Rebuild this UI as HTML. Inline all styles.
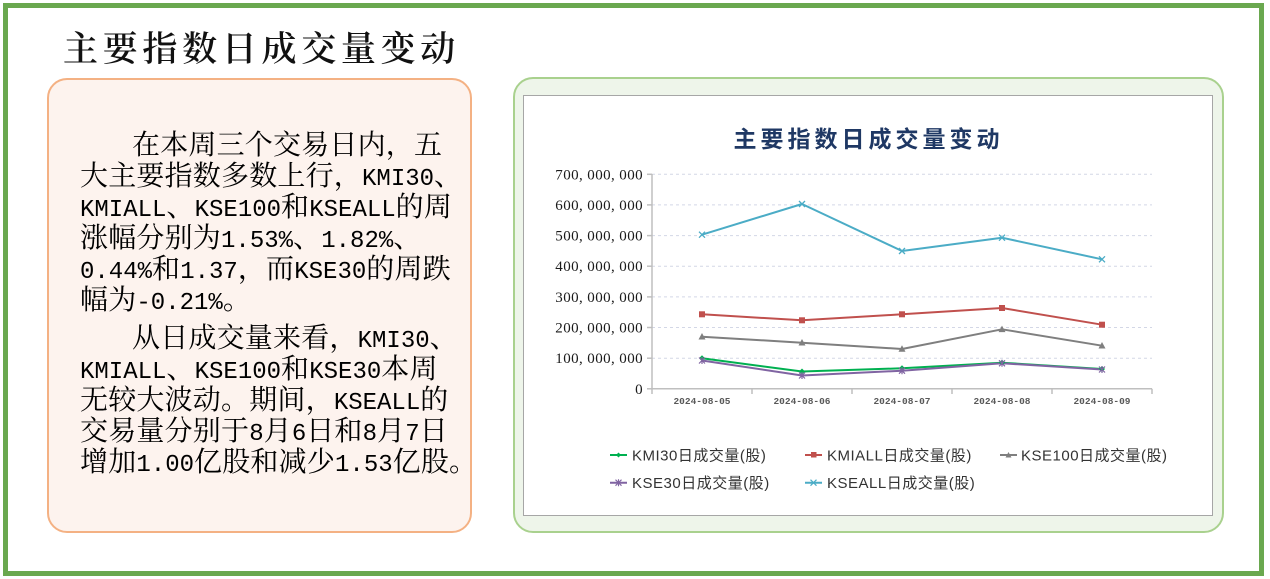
<!DOCTYPE html>
<html>
<head>
<meta charset="utf-8">
<style>
  html,body{margin:0;padding:0;background:#fff;}
  body{width:1270px;height:579px;position:relative;overflow:hidden;}
  .frame{position:absolute;left:3px;top:3px;width:1251px;height:563px;border:5.5px solid #6aa84f;}
  .heading{position:absolute;left:63px;top:27px;height:40px;line-height:40px;font-family:"Noto Serif CJK SC",serif;font-weight:600;font-size:35px;letter-spacing:4.7px;color:#111;white-space:nowrap;}
  .lbox{position:absolute;left:47px;top:78px;width:421px;height:451px;border:2px solid #f4b183;border-radius:20px;background:#fdf3ee;}
  .p{position:absolute;left:80px;height:31px;line-height:31px;font-family:"Noto Serif CJK SC",serif;font-size:28px;letter-spacing:0.2px;white-space:nowrap;color:#000;}
  .m{font-family:"Liberation Mono",monospace;font-size:24px;letter-spacing:0;}
  .gbox{position:absolute;left:513px;top:77px;width:707px;height:452px;border:2px solid #a9d18e;border-radius:20px;background:#eef5ea;}
  .wbox{position:absolute;left:523px;top:95px;width:688px;height:419px;border:1.5px solid #a6a6a6;background:#fff;}
  .ctitle{position:absolute;left:523px;top:122px;width:691px;height:30px;line-height:30px;text-align:center;font-family:"Noto Sans CJK SC",sans-serif;font-weight:700;font-size:23px;letter-spacing:4px;color:#1f3864;white-space:nowrap;}
  svg{position:absolute;left:0;top:0;}
</style>
</head>
<body>
<div class="frame"></div>
<div class="heading">主要指数日成交量变动</div>

<div class="lbox"></div>
<div class="p" style="top:128px;left:132px;">在本周三个交易日内，五</div>
<div class="p" style="top:159px;">大主要指数多数上行，<span class="m">KMI30</span>、</div>
<div class="p" style="top:190px;"><span class="m">KMIALL</span>、<span class="m">KSE100</span>和<span class="m">KSEALL</span>的周</div>
<div class="p" style="top:221px;">涨幅分别为<span class="m">1.53%</span>、<span class="m">1.82%</span>、</div>
<div class="p" style="top:252px;"><span class="m">0.44%</span>和<span class="m">1.37</span>，而<span class="m">KSE30</span>的周跌</div>
<div class="p" style="top:283px;">幅为<span class="m">-0.21%</span>。</div>

<div class="p" style="top:321px;left:132px;">从日成交量来看，<span class="m">KMI30</span>、</div>
<div class="p" style="top:352px;"><span class="m">KMIALL</span>、<span class="m">KSE100</span>和<span class="m">KSE30</span>本周</div>
<div class="p" style="top:383px;">无较大波动。期间，<span class="m">KSEALL</span>的</div>
<div class="p" style="top:414px;">交易量分别于<span class="m">8</span>月<span class="m">6</span>日和<span class="m">8</span>月<span class="m">7</span>日</div>
<div class="p" style="top:445px;">增加<span class="m">1.00</span>亿股和减少<span class="m">1.53</span>亿股。</div>

<div class="gbox"></div>
<div class="wbox"></div>
<div class="ctitle">主要指数日成交量变动</div>

<svg width="1270" height="579" viewBox="0 0 1270 579" xmlns="http://www.w3.org/2000/svg">
  <g stroke="#d3d7e6" stroke-width="1" stroke-dasharray="3,3">
    <line x1="652" y1="174.3" x2="1152" y2="174.3"/>
    <line x1="652" y1="204.9" x2="1152" y2="204.9"/>
    <line x1="652" y1="235.6" x2="1152" y2="235.6"/>
    <line x1="652" y1="266.2" x2="1152" y2="266.2"/>
    <line x1="652" y1="296.9" x2="1152" y2="296.9"/>
    <line x1="652" y1="327.5" x2="1152" y2="327.5"/>
    <line x1="652" y1="358.2" x2="1152" y2="358.2"/>
  </g>
  <g stroke="#bfbfbf" stroke-width="1.5">
    <line x1="652" y1="174" x2="652" y2="389"/>
    <line x1="652" y1="388.8" x2="1152" y2="388.8"/>
    <line x1="647" y1="174.3" x2="652" y2="174.3"/>
    <line x1="647" y1="204.9" x2="652" y2="204.9"/>
    <line x1="647" y1="235.6" x2="652" y2="235.6"/>
    <line x1="647" y1="266.2" x2="652" y2="266.2"/>
    <line x1="647" y1="296.9" x2="652" y2="296.9"/>
    <line x1="647" y1="327.5" x2="652" y2="327.5"/>
    <line x1="647" y1="358.2" x2="652" y2="358.2"/>
    <line x1="647" y1="388.8" x2="652" y2="388.8"/>
    <line x1="652" y1="388.8" x2="652" y2="394"/>
    <line x1="752" y1="388.8" x2="752" y2="394"/>
    <line x1="852" y1="388.8" x2="852" y2="394"/>
    <line x1="952" y1="388.8" x2="952" y2="394"/>
    <line x1="1052" y1="388.8" x2="1052" y2="394"/>
    <line x1="1152" y1="388.8" x2="1152" y2="394"/>
  </g>
  <g font-family="Liberation Serif, serif" font-size="15" fill="#1a1a1a" text-anchor="end" letter-spacing="0.4">
    <text x="643" y="179.3">700, 000, 000</text>
    <text x="643" y="209.9">600, 000, 000</text>
    <text x="643" y="240.6">500, 000, 000</text>
    <text x="643" y="271.2">400, 000, 000</text>
    <text x="643" y="301.9">300, 000, 000</text>
    <text x="643" y="332.5">200, 000, 000</text>
    <text x="643" y="363.2">100, 000, 000</text>
    <text x="643" y="393.8">0</text>
  </g>
  <g font-family="Liberation Mono, monospace" font-weight="700" font-size="9.5" fill="#595959" text-anchor="middle">
    <text x="702" y="404">2024-08-05</text>
    <text x="802" y="404">2024-08-06</text>
    <text x="902" y="404">2024-08-07</text>
    <text x="1002" y="404">2024-08-08</text>
    <text x="1102" y="404">2024-08-09</text>
  </g>

  <g fill="none" stroke-width="2" stroke-linejoin="round">
    <polyline stroke="#00b050" points="702,358.3 802,371.5 902,368.3 1002,362.7 1102,369"/>
    <polyline stroke="#c0504d" points="702,314.3 802,320.3 902,314.3 1002,308 1102,324.7"/>
    <polyline stroke="#7f7f7f" points="702,336.7 802,342.7 902,349 1002,329.3 1102,345.7"/>
    <polyline stroke="#8064a2" points="702,360.5 802,375.5 902,370.7 1002,363.3 1102,369.5"/>
    <polyline stroke="#4bacc6" points="702,234.7 802,204 902,251 1002,237.7 1102,259.3"/>
  </g>

  <g fill="#00b050">
    <path d="M702,355.3L705,358.3L702,361.3L699,358.3Z"/>
    <path d="M802,368.5L805,371.5L802,374.5L799,371.5Z"/>
    <path d="M902,365.3L905,368.3L902,371.3L899,368.3Z"/>
    <path d="M1002,359.7L1005,362.7L1002,365.7L999,362.7Z"/>
    <path d="M1102,366L1105,369L1102,372L1099,369Z"/>
  </g>
  <g fill="#c0504d">
    <rect x="699" y="311.3" width="6" height="6"/>
    <rect x="799" y="317.3" width="6" height="6"/>
    <rect x="899" y="311.3" width="6" height="6"/>
    <rect x="999" y="305" width="6" height="6"/>
    <rect x="1099" y="321.7" width="6" height="6"/>
  </g>
  <g fill="#7f7f7f">
    <path d="M702,333L705.5,339.5L698.5,339.5Z"/>
    <path d="M802,339L805.5,345.5L798.5,345.5Z"/>
    <path d="M902,345.3L905.5,351.8L898.5,351.8Z"/>
    <path d="M1002,325.6L1005.5,332.1L998.5,332.1Z"/>
    <path d="M1102,342L1105.5,348.5L1098.5,348.5Z"/>
  </g>
  <g stroke="#8064a2" stroke-width="1.2">
    <path d="M699,357.5L705,363.5M705,357.5L699,363.5M702,357L702,364"/>
    <path d="M799,372.5L805,378.5M805,372.5L799,378.5M802,372L802,379"/>
    <path d="M899,367.7L905,373.7M905,367.7L899,373.7M902,367.2L902,374.2"/>
    <path d="M999,360.3L1005,366.3M1005,360.3L999,366.3M1002,359.8L1002,366.8"/>
    <path d="M1099,366.5L1105,372.5M1105,366.5L1099,372.5M1102,366L1102,373"/>
  </g>
  <g stroke="#4bacc6" stroke-width="1.3">
    <path d="M699,231.7L705,237.7M705,231.7L699,237.7"/>
    <path d="M799,201L805,207M805,201L799,207"/>
    <path d="M899,248L905,254M905,248L899,254"/>
    <path d="M999,234.7L1005,240.7M1005,234.7L999,240.7"/>
    <path d="M1099,256.3L1105,262.3M1105,256.3L1099,262.3"/>
  </g>

  <g stroke-width="2">
    <line x1="610" y1="455" x2="627" y2="455" stroke="#00b050"/>
    <line x1="805" y1="455" x2="822" y2="455" stroke="#c0504d"/>
    <line x1="1000" y1="455" x2="1017" y2="455" stroke="#7f7f7f"/>
    <line x1="610" y1="482.7" x2="627" y2="482.7" stroke="#8064a2"/>
    <line x1="805" y1="482.7" x2="822" y2="482.7" stroke="#4bacc6"/>
  </g>
  <path d="M618.5,452.5L621,455L618.5,457.5L616,455Z" fill="#00b050"/>
  <rect x="811" y="452" width="5.5" height="5.5" fill="#c0504d"/>
  <path d="M1008.5,452L1011.5,457.5L1005.5,457.5Z" fill="#7f7f7f"/>
  <path d="M615.5,479.7L621.5,485.7M621.5,479.7L615.5,485.7M618.5,479.2L618.5,486.2" stroke="#8064a2" stroke-width="1.1"/>
  <path d="M810.5,479.7L816.5,485.7M816.5,479.7L810.5,485.7" stroke="#4bacc6" stroke-width="1.2"/>

  <g font-family="Liberation Sans, Noto Sans CJK SC, sans-serif" font-size="15" fill="#333333" letter-spacing="0.5">
    <text x="632" y="460.5">KMI30日成交量(股)</text>
    <text x="827" y="460.5">KMIALL日成交量(股)</text>
    <text x="1021" y="460.5">KSE100日成交量(股)</text>
    <text x="632" y="488.2">KSE30日成交量(股)</text>
    <text x="827" y="488.2">KSEALL日成交量(股)</text>
  </g>
</svg>
</body>
</html>
